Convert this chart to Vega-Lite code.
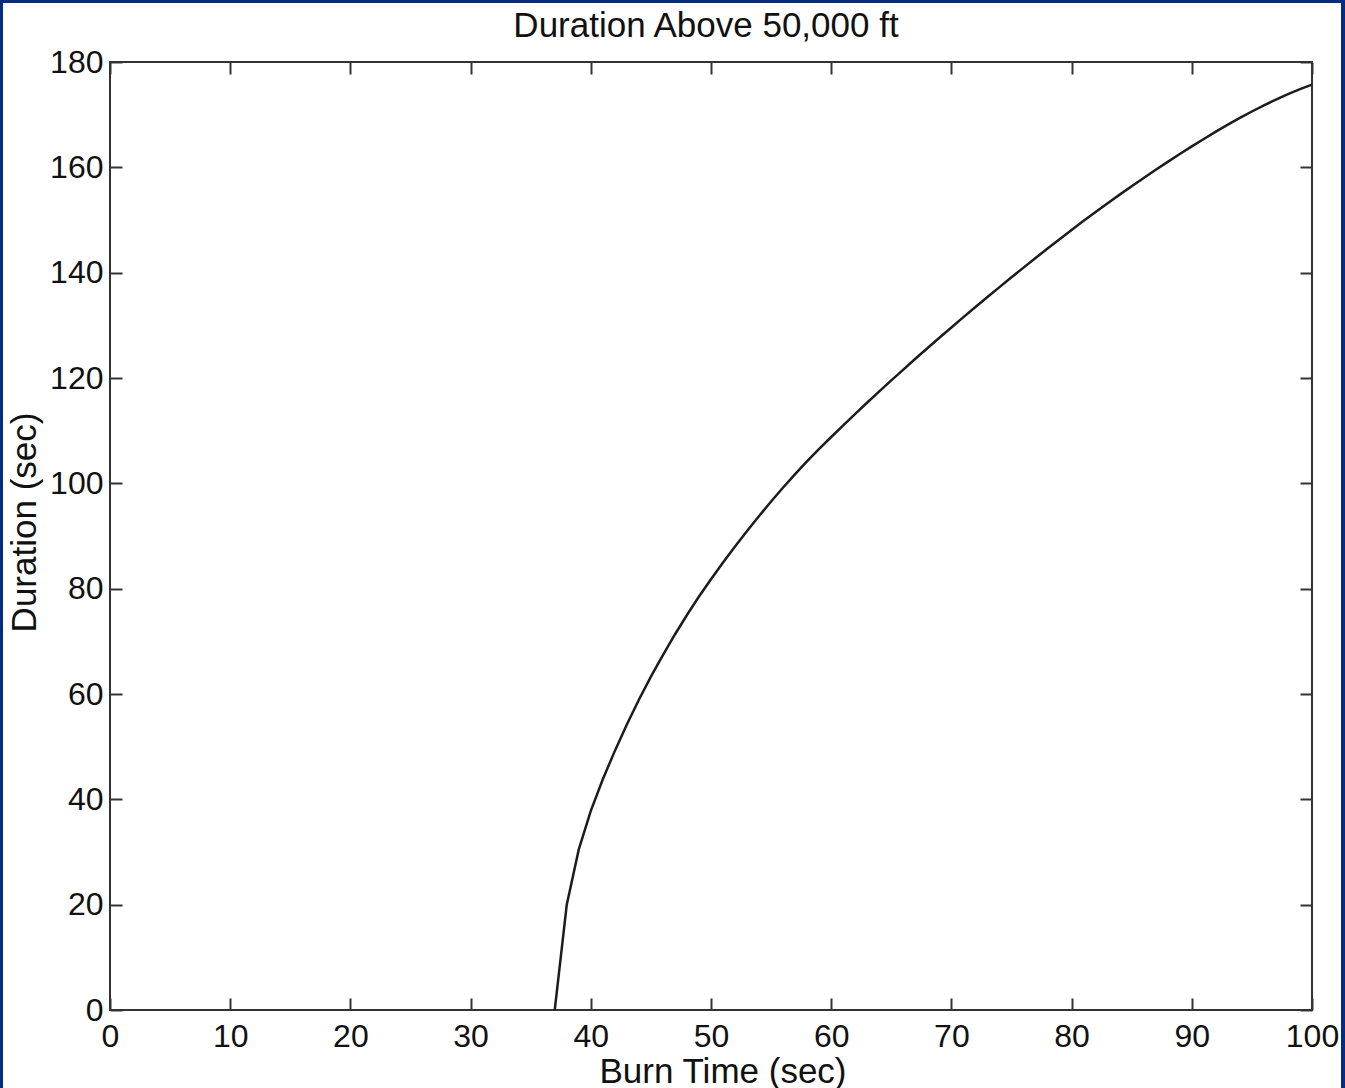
{
  "$schema": "https://vega.github.io/schema/vega-lite/v6.json",
  "width": 1338,
  "height": 1085,
  "autosize": {"type": "none"},
  "padding": {"left": 3, "top": 3, "right": 4, "bottom": 0},
  "background": "#062b85",
  "config": {
    "view": {"fill": "white", "stroke": null},
    "font": "Liberation Sans",
    "axis": {
      "domain": false,
      "grid": false,
      "tickSize": -12,
      "tickWidth": 2,
      "tickColor": "#333333",
      "labelFont": "Liberation Sans",
      "labelFontSize": 32,
      "labelColor": "#111111",
      "labelFlush": false,
      "labelOverlap": false,
      "titleFont": "Liberation Sans",
      "titleFontSize": 35,
      "titleFontWeight": "normal",
      "titleColor": "#111111"
    }
  },
  "resolve": {"axis": {"x": "independent", "y": "independent"}},
  "layer": [
    {
      "data": {"values": [{}]},
      "mark": {"type": "rect", "fill": "transparent", "stroke": "#333333", "strokeWidth": 2},
      "encoding": {
        "x": {
          "datum": 0,
          "type": "quantitative",
          "scale": {"domain": [-8.9018, 102.4126], "nice": false, "zero": false},
          "axis": {
            "orient": "top",
            "offset": -59,
            "values": [0, 10, 20, 30, 40, 50, 60, 70, 80, 90, 100],
            "labels": false,
            "title": "Duration Above 50,000 ft",
            "titleX": 702.5,
            "titleY": -26,
            "titleAlign": "center",
            "titleAnchor": null,
            "titleBaseline": "alphabetic"
          }
        },
        "x2": {"datum": 100},
        "y": {
          "datum": 0,
          "type": "quantitative",
          "scale": {"domain": [-14.81, 191.203], "nice": false, "zero": false},
          "axis": {
            "orient": "right",
            "offset": -29,
            "values": [0, 20, 40, 60, 80, 100, 120, 140, 160, 180],
            "labels": false,
            "title": null
          }
        },
        "y2": {"datum": 180}
      }
    },
    {
      "data": {
        "values": [
          {"burn": 37, "duration": 0},
          {"burn": 38, "duration": 20},
          {"burn": 39, "duration": 30.5},
          {"burn": 40, "duration": 37.8},
          {"burn": 41, "duration": 43.8},
          {"burn": 42, "duration": 49.2},
          {"burn": 43, "duration": 54.2},
          {"burn": 44, "duration": 58.9},
          {"burn": 45, "duration": 63.3},
          {"burn": 46, "duration": 67.4},
          {"burn": 47, "duration": 71.3},
          {"burn": 48, "duration": 75.0},
          {"burn": 49, "duration": 78.5},
          {"burn": 50, "duration": 81.8},
          {"burn": 51, "duration": 84.95},
          {"burn": 52, "duration": 88.0},
          {"burn": 53, "duration": 90.95},
          {"burn": 54, "duration": 93.8},
          {"burn": 55, "duration": 96.55},
          {"burn": 56, "duration": 99.2},
          {"burn": 57, "duration": 101.75},
          {"burn": 58, "duration": 104.2},
          {"burn": 59, "duration": 106.55},
          {"burn": 60, "duration": 108.8},
          {"burn": 61, "duration": 111.0},
          {"burn": 62, "duration": 113.2},
          {"burn": 63, "duration": 115.35},
          {"burn": 64, "duration": 117.45},
          {"burn": 65, "duration": 119.55},
          {"burn": 66, "duration": 121.6},
          {"burn": 67, "duration": 123.65},
          {"burn": 68, "duration": 125.65},
          {"burn": 69, "duration": 127.65},
          {"burn": 70, "duration": 129.6},
          {"burn": 71, "duration": 131.55},
          {"burn": 72, "duration": 133.48},
          {"burn": 73, "duration": 135.38},
          {"burn": 74, "duration": 137.26},
          {"burn": 75, "duration": 139.12},
          {"burn": 76, "duration": 140.96},
          {"burn": 77, "duration": 142.78},
          {"burn": 78, "duration": 144.58},
          {"burn": 79, "duration": 146.36},
          {"burn": 80, "duration": 148.12},
          {"burn": 81, "duration": 149.84},
          {"burn": 82, "duration": 151.53},
          {"burn": 83, "duration": 153.19},
          {"burn": 84, "duration": 154.82},
          {"burn": 85, "duration": 156.42},
          {"burn": 86, "duration": 157.99},
          {"burn": 87, "duration": 159.53},
          {"burn": 88, "duration": 161.04},
          {"burn": 89, "duration": 162.52},
          {"burn": 90, "duration": 163.97},
          {"burn": 91, "duration": 165.39},
          {"burn": 92, "duration": 166.77},
          {"burn": 93, "duration": 168.1},
          {"burn": 94, "duration": 169.38},
          {"burn": 95, "duration": 170.6},
          {"burn": 96, "duration": 171.76},
          {"burn": 97, "duration": 172.86},
          {"burn": 98, "duration": 173.91},
          {"burn": 99, "duration": 174.85},
          {"burn": 100, "duration": 175.7}
        ]
      },
      "mark": {"type": "line", "color": "#1c1c1c", "strokeWidth": 2.5},
      "encoding": {
        "x": {
          "field": "burn",
          "type": "quantitative",
          "scale": {"domain": [-8.9018, 102.4126], "nice": false, "zero": false},
          "axis": {
            "orient": "bottom",
            "offset": -78,
            "values": [0, 10, 20, 30, 40, 50, 60, 70, 80, 90, 100],
            "labelPadding": 48,
            "labelBaseline": "alphabetic",
            "title": "Burn Time (sec)",
            "titleX": 719.5,
            "titleY": 72,
            "titleAlign": "center",
            "titleAnchor": null,
            "titleBaseline": "alphabetic"
          }
        },
        "y": {
          "field": "duration",
          "type": "quantitative",
          "scale": {"domain": [-14.81, 191.203], "nice": false, "zero": false},
          "axis": {
            "orient": "left",
            "offset": -107,
            "values": [0, 20, 40, 60, 80, 100, 120, 140, 160, 180],
            "labelPadding": 19,
            "labelBaseline": "middle",
            "title": "Duration (sec)",
            "titleX": -75,
            "titleY": 519,
            "titleAngle": -90,
            "titleAlign": "center",
            "titleAnchor": null,
            "titleBaseline": "alphabetic"
          }
        }
      }
    }
  ]
}
